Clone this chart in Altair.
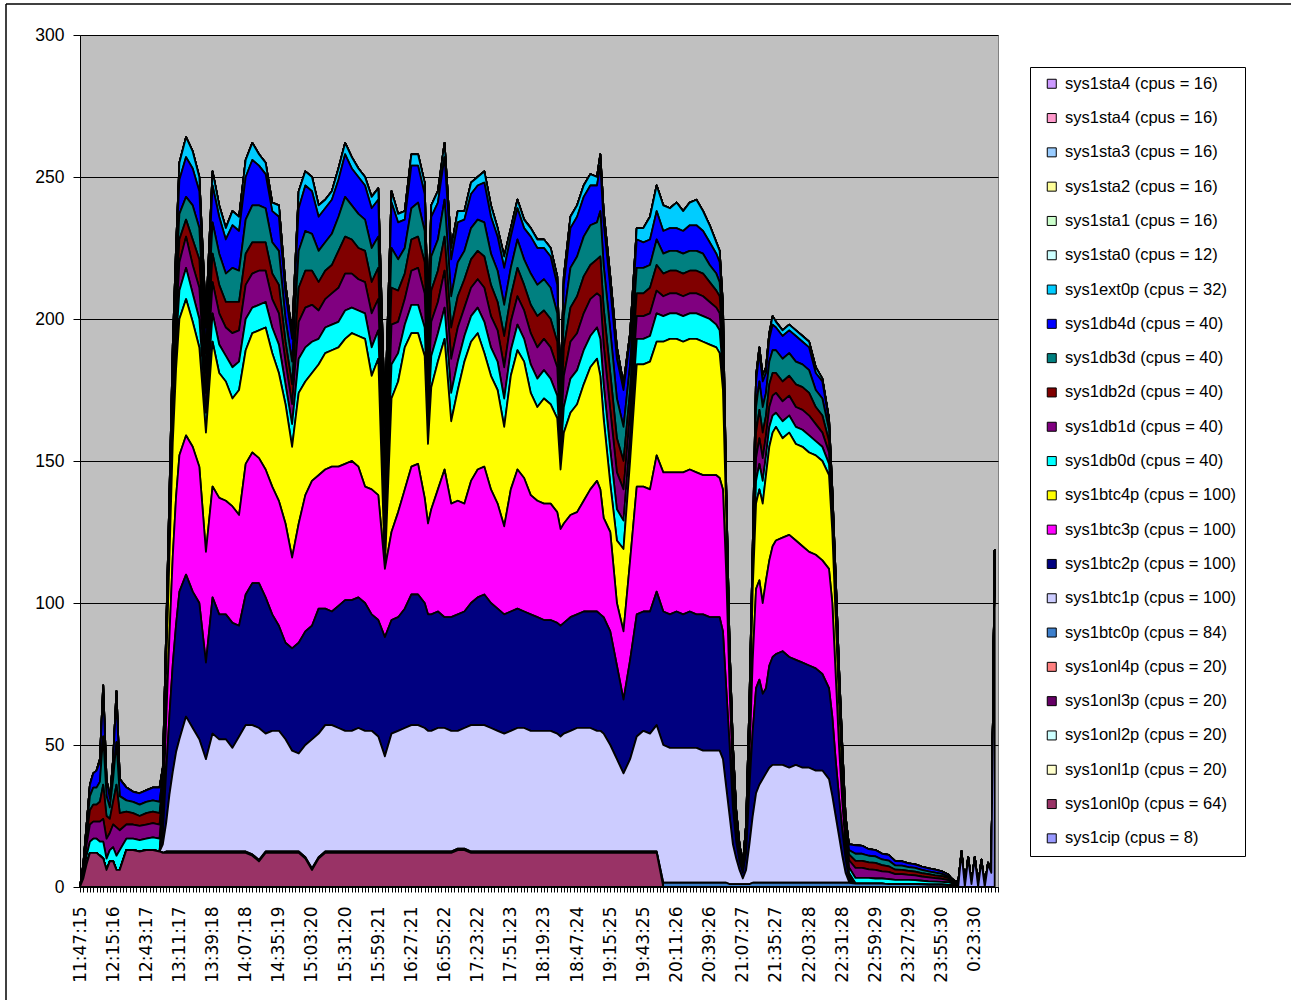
import json
import altair as alt
import pandas as pd

# Category labels shown under every 10th sample (samples are ~2.8 min apart)
TIME_LABELS = [
    "11:47:15", "12:15:16", "12:43:17", "13:11:17", "13:39:18", "14:07:18",
    "14:35:19", "15:03:20", "15:31:20", "15:59:21", "16:27:21", "16:55:22",
    "17:23:22", "17:51:23", "18:19:23", "18:47:24", "19:15:25", "19:43:25",
    "20:11:26", "20:39:26", "21:07:27", "21:35:27", "22:03:28", "22:31:28",
    "22:59:29", "23:27:29", "23:55:30", "0:23:30",
]
N_SAMPLES = 277

# Sample numbers that carry a reading
SAMPLE = sorted(set(
    list(range(0, 13)) + list(range(14, 25, 2)) + list(range(25, 30))
    + list(range(30, 193, 2)) + [105, 145, 157]
    + list(range(193, 210)) + list(range(210, 225, 2))
    + list(range(226, 233)) + list(range(234, 263, 2)) + list(range(263, 277))
))

ONL0P = (
    [0, 3, 8, 12, 12, 12, 11, 10, 6, 9, 9, 6, 6]
    + [13, 13, 12.5, 13, 13, 12.5]
    + [12, 12, 12, 12, 12]
    + [12, 12, 12, 12, 12, 12, 12, 12, 12, 12]
    + [12, 11, 9, 12, 12, 12, 12, 12, 12, 10]
    + [6, 10, 12, 12, 12, 12, 12, 12, 12, 12]
    + [12] * 11
    + [12, 12, 13, 13, 12, 12, 12, 12, 12, 12]
    + [12] * 11
    + [12] * 11
    + [12, 12, 12, 0, 0, 0, 0, 0, 0, 0]
    + [0, 0]
    + [0] * 61
)

BTC0P = (
    [0] * 19
    + [0, 0.5, 0.5, 0.5, 0.5]
    + [0.5] * 76 + [1.5] * 9
    + [1.5, 1.5, 1.5, 1, 1, 1, 1, 1, 1, 1, 1.5, 1.5, 1.5, 1.5, 1.5, 1.5, 1.5]
    + [1.5] * 8
    + [1.5] * 7
    + [1.2, 1.2, 1.2, 1.2, 1.2, 1, 1, 1, 1, 1, 0.9, 0.8, 0.8, 0.8, 0.7]
    + [0.6, 0.5, 0.5] + [0.3] * 11
)

BTC1P = (
    [0] * 19
    + [3, 10, 20, 28, 35]
    + [39.5, 47.5, 43.5, 39.5, 32.5, 41.5, 39.5, 39.5, 36.5, 40.5]
    + [44.5, 45.5, 46.5, 41.5, 42.5, 42.5, 39.5, 35.5, 34.5, 39.5]
    + [45.5, 43.5, 44.5, 44.5, 43.5, 42.5, 42.5, 43.5, 42.5, 42.5]
    + [40.5, 33.5, 41.5, 42.5, 43.5, 44.5, 44.5, 43.5, 42.5, 42.5, 43.5]
    + [43.5, 42.5, 41.5, 42.5, 44.5, 44.5, 44.5, 43.5, 42.5, 41.5]
    + [42.5, 43.5, 43.5, 42.5, 42.5, 42.5, 42.5, 41.5, 40.5, 41.5, 42.5]
    + [43.5, 43.5, 43.5, 42.5, 42.5, 41.5, 37.5, 32.5, 27.5, 32.5, 40.5]
    + [42.5, 41.5, 44.5, 48.5, 47.5, 47.5, 47.5, 47.5, 47.5, 46.5]
    + [46.5, 46.5]
    + [46.5, 43.5, 33.5, 24, 14, 9, 5, 2, 5, 14, 23.5, 31.5, 34.5, 36.5, 38.5, 40.5, 41.5]
    + [41.5, 41.5, 40.5, 41.5, 40.5, 40.5, 39.5, 39.5]
    + [36.5, 30.5, 23.5, 16.5, 9.5, 3.5, 0.5]
    + [0] * 29
)

BTC2P = (
    [0] * 19
    + [4, 18, 28, 38, 45]
    + [52, 50, 48, 48, 34, 48, 44, 44, 44, 39]
    + [46, 50, 51, 48, 41, 37, 34, 36, 39, 40]
    + [40, 44, 41, 40, 43, 46, 46, 46, 45, 41]
    + [41, 42, 40, 40, 42, 46, 46, 44, 41, 41, 41]
    + [39, 40, 41, 41, 43, 45, 46, 44, 43, 42]
    + [42, 42, 41, 41, 40, 39, 39, 39, 39, 39, 40]
    + [40, 41, 41, 42, 41, 41, 40, 33, 26, 35, 43]
    + [42, 43, 47, 47, 47, 48, 47, 48, 47, 48]
    + [47, 47]
    + [47, 45, 35, 25, 13, 6, 3, 2, 6, 20, 30, 37, 37, 30, 30, 36, 38]
    + [39, 40, 39, 37, 37, 36, 36, 34]
    + [32, 28, 20, 14, 9, 5, 1]
    + [0] * 29
)

BTC3P = (
    [0] * 19
    + [4, 18, 28, 38, 45]
    + [48, 49, 51, 48, 39, 39, 41, 40, 41, 39]
    + [46, 46, 44, 45, 45, 44, 42, 32, 42, 48]
    + [51, 47, 49, 51, 49, 48, 49, 46, 41, 44]
    + [44, 24, 31, 37, 42, 45, 46, 37, 32, 37, 43]
    + [52, 40, 40, 38, 43, 45, 45, 40, 37, 31]
    + [43, 49, 47, 42, 41, 41, 41, 39, 34, 35, 36]
    + [36, 39, 43, 46, 44, 35, 35, 22, 24, 35, 45]
    + [44, 43, 48, 49, 50, 49, 50, 50, 50, 49]
    + [50, 50]
    + [49, 50, 40, 20, 10, 4, 2, 1, 3, 10, 25, 35, 35, 32, 38, 37, 39]
    + [40, 40, 43, 42, 41, 40, 40, 40]
    + [42, 40, 30, 18, 10, 4, 1]
    + [0] * 29
)

BTC4P = (
    [0] * 19
    + [4, 18, 28, 40, 45]
    + [48, 48, 44, 42, 42, 51, 44, 42, 38, 44]
    + [40, 42, 45, 50, 47, 45, 42, 39, 46, 40]
    + [38, 39, 41, 41, 42, 44, 45, 46, 52, 40]
    + [48, 0, 47, 46, 50, 47, 46, 50, 28, 43, 45]
    + [46, 29, 39, 50, 49, 48, 40, 40, 40, 35]
    + [40, 42, 41, 36, 33, 37, 35, 33, 21, 32, 36]
    + [38, 41, 43, 43, 40, 35, 17, 22, 29, 35, 43]
    + [43, 45, 40, 46, 47, 47, 46, 46, 47, 47]
    + [46, 45]
    + [44, 35, 20, 10, 7, 4, 2, 1, 3, 10, 25, 30, 32, 35, 37, 40, 40]
    + [40, 35, 36, 34, 35, 35, 35, 35]
    + [33, 25, 20, 15, 10, 4, 1]
    + [0] * 29
)

DB0D = (
    [0, 1, 3, 4, 5, 5, 5, 6, 4, 4, 5, 5, 7]
    + [4, 4, 4, 4, 4.5, 4.5]
    + [3, 3, 5, 7, 9]
    + [10, 11, 10, 10, 7, 10, 10, 9, 11, 10]
    + [11, 9, 9, 9, 9, 10, 7, 8, 12, 12]
    + [11, 9, 9, 9, 9, 10, 9, 9, 9, 10]
    + [10, 9, 12, 10, 8, 10, 10, 10, 7, 11, 10]
    + [11, 10, 10, 9, 9, 9, 11, 10, 10, 10]
    + [9, 9, 8, 10, 10, 10, 9, 8, 5, 9, 12]
    + [12, 12, 11, 11, 13, 12, 12, 11, 10, 8, 9]
    + [9, 9, 10, 9, 9, 9, 9, 9, 9, 9]
    + [9, 8]
    + [8, 6, 2, 1, 1, 1, 0.5, 0.3, 1, 2, 3, 8, 9, 8, 7, 7, 6]
    + [5, 6, 6, 6, 6, 6, 5, 5]
    + [4, 3, 3, 2.5, 2, 1.5, 2]
    + [2, 2, 2, 1.8, 1.8, 1.8, 1.5, 1.5, 1.5, 1.4, 1.3, 1.2, 1.1, 1, 0.9]
    + [0.8, 0.6, 0.5] + [0.3] * 11
)

DB1D = (
    [0, 1.5, 4, 6, 6, 6, 7, 8, 7, 6, 8, 10, 7]
    + [5, 5, 5, 5, 5, 5]
    + [3, 3, 5, 7, 8]
    + [10, 11, 10, 11, 7, 11, 11, 10, 12, 11]
    + [12, 12, 12, 11, 10, 11, 8, 7, 13, 14]
    + [13, 10, 10, 11, 12, 13, 12, 11, 11, 12]
    + [11, 10, 14, 11, 9, 12, 13, 12, 8, 12, 11]
    + [13, 12, 12, 10, 10, 10, 12, 11, 11, 11]
    + [10, 10, 10, 11, 11, 11, 11, 10, 5, 11, 13]
    + [13, 13, 13, 12, 15, 14, 14, 13, 11, 9, 8]
    + [8, 8, 8, 7, 7, 7, 7, 7, 7, 7]
    + [6, 6]
    + [6, 5, 2, 1, 1, 0.5, 0.5, 0.3, 1, 2, 3, 8, 9, 8, 7, 7, 7]
    + [7, 7, 7, 7, 7, 7, 6, 5]
    + [4, 3, 3, 3, 2.5, 1.5, 2.5]
    + [3.5, 3.5, 3, 3, 2.5, 2.5, 2, 2, 1.8, 1.7, 1.5, 1.4, 1.2, 1.1, 0.8]
    + [0.5, 0.3, 0.2] + [0] * 11
)

DB2D = (
    [0, 1, 3, 5, 6, 6, 7, 12, 8, 5, 8, 15, 6]
    + [4.5, 4, 3.5, 4, 4, 4]
    + [3, 3, 4, 6, 7]
    + [8, 6, 9, 10, 7, 10, 10, 9, 11, 10]
    + [11, 11, 10, 10, 9, 10, 7, 7, 12, 13]
    + [12, 10, 10, 10, 13, 13, 12, 11, 11, 11]
    + [11, 9, 13, 11, 9, 11, 11, 11, 8, 11, 11]
    + [12, 11, 11, 10, 10, 10, 11, 11, 10, 11]
    + [9, 10, 9, 10, 11, 10, 10, 9, 5, 10, 12]
    + [13, 13, 12, 12, 14, 13, 13, 12, 10, 8, 8]
    + [8, 9, 9, 8, 8, 8, 8, 8, 8, 8]
    + [7, 6]
    + [6, 5, 2, 1, 1, 0.5, 0.5, 0.2, 1, 2, 3, 9, 10, 9, 7, 8, 8]
    + [7, 7, 7, 8, 8, 8, 6, 6]
    + [4, 3, 3, 2.5, 2, 1.5, 2]
    + [2.5, 2.5, 2.5, 2.5, 2.2, 2, 1.6, 1.5, 1.4, 1.3, 1.2, 1.1, 1, 0.9, 0.7]
    + [0.4, 0.2, 0.2] + [0] * 11
)

DB3D = (
    [0, 1, 2, 5, 6, 6, 7, 17, 7, 4, 8, 15, 6]
    + [4, 4, 4, 4, 4, 4]
    + [3, 2, 4, 6, 8]
    + [9, 8, 12, 11, 7, 11, 11, 10, 12, 11]
    + [12, 13, 13, 12, 11, 12, 8, 8, 13, 14]
    + [13, 11, 10, 11, 12, 14, 12, 12, 11, 12]
    + [11, 10, 14, 11, 9, 11, 12, 11, 8, 12, 11]
    + [13, 11, 12, 10, 11, 11, 12, 11, 11, 11]
    + [10, 10, 9, 11, 11, 11, 11, 10, 6, 11, 14]
    + [14, 14, 14, 13, 16, 15, 15, 14, 12, 9, 9]
    + [9, 8, 9, 7, 7, 7, 7, 7, 7, 7]
    + [6, 6]
    + [5, 5, 2, 1, 1, 0.5, 0.3, 0.1, 0.5, 2, 3, 9, 10, 9, 8, 8, 8]
    + [8, 8, 8, 8, 8, 8, 6, 6]
    + [4, 3, 3, 2.5, 1.5, 1, 1.5]
    + [2.5, 2.5, 2.3, 2.3, 2, 2, 1.5, 1.5, 1.3, 1.3, 1.1, 1, 1, 0.8, 0.6]
    + [0.3, 0.2, 0.2] + [0] * 11
)

DB4D = (
    [0, 0.5, 2, 4, 5, 6, 7, 15, 6, 3, 7, 15, 6]
    + [4.5, 3.5, 4, 4, 4.5, 5]
    + [3, 2, 4, 6, 8]
    + [12, 14, 13, 13, 9, 13, 13, 12, 15, 14]
    + [15, 16, 14, 12, 11, 12, 9, 8, 15, 16]
    + [15, 12, 12, 12, 13, 15, 13, 13, 12, 14]
    + [13, 12, 16, 13, 10, 15, 13, 13, 10, 14, 13]
    + [15, 13, 14, 11, 12, 12, 14, 13, 12, 13]
    + [11, 11, 11, 13, 13, 11, 11, 10, 5, 11, 14]
    + [14, 14, 14, 13, 16, 15, 15, 14, 13, 9, 10]
    + [9, 9, 10, 8, 8, 8, 8, 9, 9, 8]
    + [8, 7]
    + [7, 6, 1, 1, 1, 0.5, 0.2, 0.1, 0.5, 2, 3, 9, 10, 9, 7, 8, 9]
    + [8, 8, 8, 9, 8, 8, 6, 6]
    + [3, 3, 3, 2.5, 2, 1.5, 2]
    + [3, 2.8, 2.3, 2.2, 2, 2, 1.5, 1.5, 1.3, 1.3, 1.2, 1.1, 1, 0.9, 0.7]
    + [0.4, 0.3, 0.2] + [0] * 11
)

EXT0P = (
    [0, 0, 0, 0, 0, 0, 1, 3, 0, 0, 0, 3, 0]
    + [0] * 6
    + [0, 0, 0, 2, 3]
    + [6, 7, 6, 5, 3, 5, 4, 4, 5, 5]
    + [6, 6, 4, 4, 3, 4, 3, 2, 6, 5]
    + [5, 4, 3, 3, 4, 4, 4, 3, 3, 4]
    + [4, 3, 4, 3, 3, 4, 4, 4, 3, 4, 4]
    + [5, 4, 4, 3, 4, 3, 4, 4, 3, 4]
    + [3, 3, 3, 3, 3, 3, 3, 3, 2, 3, 4]
    + [4, 4, 4, 3, 4, 4, 4, 4, 2, 2, 4]
    + [5, 8, 9, 9, 7, 9, 7, 8, 9, 7]
    + [6, 4]
    + [4, 3, 1, 0, 0, 0, 0, 0, 0, 0, 0, 2, 2, 2, 2, 2, 3]
    + [2, 2, 2, 2, 2, 2, 2, 1]
    + [1, 0, 0, 0, 0, 0, 0]
    + [0] * 29
)

CIP = [0] * (len(SAMPLE) - 14) + [0, 0, 0, 12, 0, 10, 1, 10, 0, 9, 0, 8, 5, 118]
IDLE = [0] * len(SAMPLE)

# Legend order (top of the stack first)
SERIES = [
    ("sys1sta4 (cpus = 16)", "#CC99FF", IDLE),
    ("sys1sta4 (cpus = 16)", "#FF99CC", IDLE),
    ("sys1sta3 (cpus = 16)", "#99CCFF", IDLE),
    ("sys1sta2 (cpus = 16)", "#FFFF99", IDLE),
    ("sys1sta1 (cpus = 16)", "#CCFFCC", IDLE),
    ("sys1sta0 (cpus = 12)", "#CCFFFF", IDLE),
    ("sys1ext0p (cpus = 32)", "#00CCFF", EXT0P),
    ("sys1db4d (cpus = 40)", "#0000FF", DB4D),
    ("sys1db3d (cpus = 40)", "#008080", DB3D),
    ("sys1db2d (cpus = 40)", "#800000", DB2D),
    ("sys1db1d (cpus = 40)", "#800080", DB1D),
    ("sys1db0d (cpus = 40)", "#00FFFF", DB0D),
    ("sys1btc4p (cpus = 100)", "#FFFF00", BTC4P),
    ("sys1btc3p (cpus = 100)", "#FF00FF", BTC3P),
    ("sys1btc2p (cpus = 100)", "#000080", BTC2P),
    ("sys1btc1p (cpus = 100)", "#CCCCFF", BTC1P),
    ("sys1btc0p (cpus = 84)", "#3D7FCC", BTC0P),
    ("sys1onl4p (cpus = 20)", "#FF8080", IDLE),
    ("sys1onl3p (cpus = 20)", "#660066", IDLE),
    ("sys1onl2p (cpus = 20)", "#CCFFFF", IDLE),
    ("sys1onl1p (cpus = 20)", "#FFFFCC", IDLE),
    ("sys1onl0p (cpus = 64)", "#993366", ONL0P),
    ("sys1cip (cpus = 8)", "#9999FF", CIP),
]

rows = []
keys, colors = [], []
for pos, (name, color, vals) in enumerate(SERIES):
    if len(vals) != len(SAMPLE):
        raise ValueError(f"{name}: {len(vals)} values for {len(SAMPLE)} samples")
    key = f"{pos:02d}|{name}"
    keys.append(key)
    colors.append(color)
    for n, v in zip(SAMPLE, vals):
        rows.append({"n": n, "cpu": v, "series": key, "layer": len(SERIES) - 1 - pos})
df = pd.DataFrame(rows)

label_expr = (
    "datum.value % 10 === 0 ? " + json.dumps(TIME_LABELS) + "[datum.value / 10] : ''"
)

areas = alt.Chart(df).mark_area(
    stroke="black", strokeWidth=1.8, strokeJoin="round", opacity=1, interpolate="linear"
).encode(
    x=alt.X(
        "n:Q",
        scale=alt.Scale(domain=[0, N_SAMPLES], nice=False, zero=False),
        axis=alt.Axis(
            title=None, values=list(range(0, N_SAMPLES + 1)), labelExpr=label_expr,
            labelAngle=270, labelAlign="right", labelBaseline="middle",
            labelFont="DejaVu Sans", labelFontSize=17, labelColor="black",
            labelPadding=14, labelOverlap=False, labelFlush=False, labelBound=False,
            tickSize=5, tickColor="black", tickWidth=1,
            domainColor="black", domainWidth=1, grid=False,
        ),
    ),
    y=alt.Y(
        "cpu:Q",
        stack="zero",
        scale=alt.Scale(domain=[0, 300], nice=False),
        axis=alt.Axis(
            title=None, values=[0, 50, 100, 150, 200, 250, 300],
            labelFont="Liberation Sans", labelFontSize=17.5, labelColor="black",
            labelPadding=9, tickSize=7, tickColor="black", tickWidth=1,
            domainColor="black", domainWidth=1,
            grid=True, gridColor="black", gridWidth=1, gridOpacity=1,
        ),
    ),
    color=alt.Color(
        "series:N",
        scale=alt.Scale(domain=keys, range=colors),
        legend=alt.Legend(
            title=None, orient="none", legendX=950, legendY=32, direction="vertical",
            fillColor="white", strokeColor="black", padding=8.5,
            symbolType="square", symbolSize=81, symbolStrokeColor="black",
            symbolStrokeWidth=1, symbolOpacity=1, symbolOffset=5,
            labelFont="Liberation Sans", labelFontSize=16.5, labelColor="black",
            labelLimit=400, labelOffset=5, rowPadding=17.3,
            labelExpr="split(datum.label, '|')[1]",
        ),
    ),
    order=alt.Order("layer:Q", sort="ascending"),
)

# Chart-area frame (top and left edges)
frame_src = pd.DataFrame({"f": [0]})
frame_top = alt.Chart(frame_src).mark_rule(color="black", strokeWidth=1.5).encode(
    x=alt.value(-74), x2=alt.value(1211), y=alt.value(-31)
)
frame_left = alt.Chart(frame_src).mark_rule(color="black", strokeWidth=1.5).encode(
    x=alt.value(-74), y=alt.value(-31), y2=alt.value(965)
)

chart = alt.layer(areas, frame_top, frame_left).properties(
    width=918,
    height=852,
    padding={"left": 80, "top": 35, "right": 293, "bottom": 113},
    autosize=alt.AutoSizeParams(type="none"),
    background="white",
).configure_view(fill="#C0C0C0", stroke="#808080", strokeWidth=1)

chart.save("out.html", embed_options={"renderer": "svg", "actions": False})
